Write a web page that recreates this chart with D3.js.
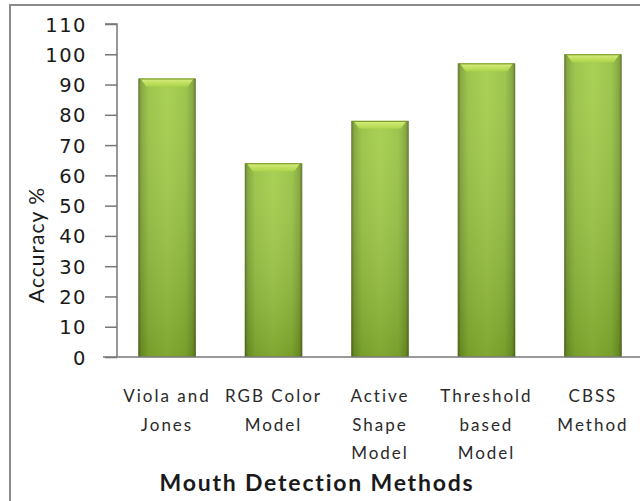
<!DOCTYPE html>
<html><head><meta charset="utf-8">
<script src="https://cdn.jsdelivr.net/npm/d3@7"></script>
<style>body{margin:0;background:#fff}svg{display:block}</style>
</head><body>
<script>
const categories = [["Viola and","Jones"],["RGB Color","Model"],["Active","Shape","Model"],["Threshold","based","Model"],["CBSS","Method"]];
const values = [92, 64, 78, 97, 100];
const yTicks = [0,10,20,30,40,50,60,70,80,90,100,110];
const yTitle = "Accuracy %";
const xTitle = "Mouth Detection Methods";

const W = 640, H = 501;
const svg = d3.select("body").append("svg").attr("width", W).attr("height", H);
const defs = svg.append("defs");
const gh = defs.append("linearGradient").attr("id","gh").attr("x1","0").attr("x2","1").attr("y1","0").attr("y2","0");
[["0%","#4f671a"],["5%","#7a9f2e"],["18%","#93bf3a"],["50%","#a0cb42"],["82%","#93bf3a"],["95%","#7a9f2e"],["100%","#4f671a"]]
  .forEach(([o,c])=>gh.append("stop").attr("offset",o).attr("stop-color",c));
const gv = defs.append("linearGradient").attr("id","gv").attr("x1","0").attr("x2","0").attr("y1","0").attr("y2","1");
[["0%","#ffffff",0.1],["100%","#2f4a05",0.28]].forEach(([o,c,a])=>gv.append("stop").attr("offset",o).attr("stop-color",c).attr("stop-opacity",a));
const gt = defs.append("linearGradient").attr("id","gt").attr("x1","0").attr("x2","0").attr("y1","0").attr("y2","1");
[["0%","#d9ee7e"],["100%","#acd449"]].forEach(([o,c])=>gt.append("stop").attr("offset",o).attr("stop-color",c));

// outer border
svg.append("rect").attr("x",10).attr("y",5).attr("width",W).attr("height",H).attr("fill","#fff").attr("stroke","#8a8a8a").attr("stroke-width",2);

const y = d3.scaleLinear().domain([0,110]).range([357,24]);
const x = d3.scaleBand().domain(d3.range(values.length)).range([117,643]).paddingInner(0.46).paddingOuter(0.2);

// y axis
const yAxis = svg.append("g").attr("transform","translate(117,0)")
  .call(d3.axisLeft(y).tickValues(yTicks).tickSize(12).tickPadding(18));
yAxis.select(".domain").attr("stroke","#777").attr("stroke-width",1.5).attr("d","M-12,24H0V357");
yAxis.selectAll(".tick line").attr("stroke","#777").attr("stroke-width",1.5);
yAxis.selectAll(".tick text").attr("fill","#1a1a1a").style("font-family","DejaVu Sans").style("font-size","19.5px").style("letter-spacing","1.5px").attr("dy","0.36em");

// bars
const bars = svg.append("g").selectAll("g").data(values).join("g");
bars.append("rect").attr("x",(d,i)=>x(i)).attr("y",d=>y(d)).attr("width",x.bandwidth()).attr("height",d=>y(0)-y(d)).attr("fill","url(#gh)");
bars.append("rect").attr("x",(d,i)=>x(i)).attr("y",d=>y(d)).attr("width",x.bandwidth()).attr("height",d=>y(0)-y(d)).attr("fill","url(#gv)");
bars.append("path").attr("d",(d,i)=>{const x0=x(i),x1=x0+x.bandwidth(),t=y(d),b=8;
  return `M${x0+2},${t}H${x1-2}L${x1-b},${t+b}H${x0+b}Z`;}).attr("fill","url(#gt)");
bars.append("line").attr("x1",(d,i)=>x(i)+1).attr("x2",(d,i)=>x(i)+x.bandwidth()-1).attr("y1",d=>y(d)+0.5).attr("y2",d=>y(d)+0.5).attr("stroke","#6f8f27").attr("stroke-width",1);

// x axis line
svg.append("line").attr("x1",103).attr("x2",W).attr("y1",357).attr("y2",357).attr("stroke","#777").attr("stroke-width",1.5);

// category labels
const lab = svg.append("g").selectAll("text").data(categories).join("text")
  .attr("x",(d,i)=>x(i)+x.bandwidth()/2).attr("y",402).attr("text-anchor","middle")
  .attr("fill","#2a2a2a").style("font-family","Lato").style("font-size","17px").style("letter-spacing","2px");
lab.selectAll("tspan").data(d=>d).join("tspan").attr("x",function(){return this.parentNode.getAttribute("x");})
  .attr("dy",(d,j)=>j===0?0:28.5).text(d=>d);

// axis titles
svg.append("text").attr("transform","translate(44,245) rotate(-90)").attr("text-anchor","middle")
  .attr("fill","#1a1a1a").style("font-family","Lato").style("font-size","21px").style("letter-spacing","1px").text(yTitle);
svg.append("text").attr("x",317).attr("y",491).attr("text-anchor","middle")
  .attr("fill","#1a1a1a").style("font-family","Lato").style("font-weight","bold").style("font-size","23px").style("letter-spacing","1.8px").text(xTitle);
</script>
</body></html>
